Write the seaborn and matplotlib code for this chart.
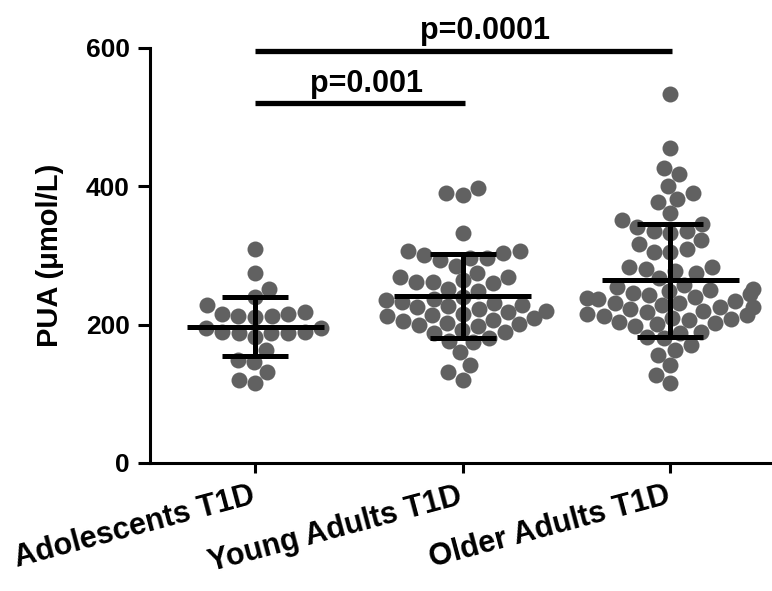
import numpy as np
import pandas as pd
import matplotlib
matplotlib.use("Agg")
import matplotlib.pyplot as plt
import matplotlib.transforms as mtransforms
import seaborn as sns

sns.set_style("ticks")
plt.rcParams['font.family'] = ['Liberation Sans', 'DejaVu Sans']
plt.rcParams['font.weight'] = 'bold'
plt.rcParams['text.color'] = 'black'
plt.rcParams['axes.labelcolor'] = 'black'
plt.rcParams['xtick.color'] = 'black'
plt.rcParams['ytick.color'] = 'black'
plt.rcParams['axes.edgecolor'] = 'black'

categories = ["Adolescents T1D", "Young Adults T1D", "Older Adults T1D"]

adolescents = [310, 274, 252, 240, 228, 218, 216, 213, 213, 216, 195, 189, 188,
               189, 182, 211, 188, 188, 195, 163, 149, 146, 131, 120, 115]

young_adults = [397, 387, 391, 332,
                307, 307, 297, 293, 300, 296, 303, 285,
                264, 261, 269, 269, 261, 260, 275, 252, 248,
                240, 237, 235, 233, 231, 229, 227, 225, 222, 220, 218, 216, 214,
                212, 210, 207, 205, 203, 201, 198,
                199, 189, 180, 175, 160, 177, 188, 192,
                141, 131, 120]

older_adults = [534, 456, 427, 418, 401, 391, 382, 377, 361,
                351, 341, 336, 333, 336, 346, 322, 317,
                310, 305, 305,
                283, 278, 281, 283, 274, 268,
                258, 255, 252, 249, 246, 243, 240, 237, 234, 231, 228, 225,
                222, 219, 216, 213, 210, 207, 204, 201, 198,
                250, 244, 238, 232, 226, 220, 214, 208, 202,
                188, 180, 163, 156, 170, 182, 189,
                141, 127, 115]

group_means = [197, 241, 264]
group_sds = [43, 61, 82]

comparisons = [(0, 1, "p=0.001"), (0, 2, "p=0.0001")]
comparison_levels = [520, 596]

df = pd.DataFrame({
    "group": ([categories[0]] * len(adolescents) + [categories[1]] * len(young_adults)
              + [categories[2]] * len(older_adults)),
    "value": adolescents + young_adults + older_adults,
})

fig = plt.figure(figsize=(7.72, 5.91), dpi=100)
ax = fig.add_axes([0.1943, 0.2166, 0.8057, 0.7022])

sns.swarmplot(data=df, x="group", y="value", order=categories, color="#616161",
              size=11.5, ax=ax, zorder=2, warn_thresh=1.0)

pos = np.arange(len(categories))
ax.hlines(group_means, pos - 0.33, pos + 0.33, color="black", linewidth=3.6, zorder=4)
ax.errorbar(pos, group_means, yerr=group_sds, fmt="none", ecolor="black",
            elinewidth=3.6, capsize=24, capthick=3.6, zorder=4)

text_x = {"p=0.001": 0.535, "p=0.0001": 1.11}
for (a, b, label), lvl in zip(comparisons, comparison_levels):
    ax.plot([a, b + 0.01], [lvl, lvl], color="black", linewidth=3.8,
            solid_capstyle="butt", clip_on=False, zorder=5)
    ax.text(text_x[label], lvl + 17, label, ha="center", va="baseline",
            fontsize=22, fontweight="bold", clip_on=False)

ax.set_xlim(-0.506, 2.49)
ax.set_ylim(0, 600)
ax.set_yticks([0, 200, 400, 600])
ax.set_xlabel("")
ax.set_ylabel("PUA (μmol/L)", fontsize=21, fontweight="bold", labelpad=16)
sns.despine(ax=ax)
for s in ["left", "bottom"]:
    ax.spines[s].set_linewidth(2.2)
ax.tick_params(axis="y", length=8.5, width=2.2, labelsize=19, pad=6)
ax.tick_params(axis="x", length=7, width=2.2, labelsize=22, pad=6)
offset = mtransforms.ScaledTranslation(-5 / 100, 0, fig.dpi_scale_trans)
for lab in ax.get_xticklabels():
    lab.set_rotation(15)
    lab.set_ha("right")
    lab.set_rotation_mode("anchor")
    lab.set_fontweight("bold")
    lab.set_transform(lab.get_transform() + offset)
for lab in ax.get_yticklabels():
    lab.set_fontweight("bold")

fig.savefig("out.png", dpi=100)
